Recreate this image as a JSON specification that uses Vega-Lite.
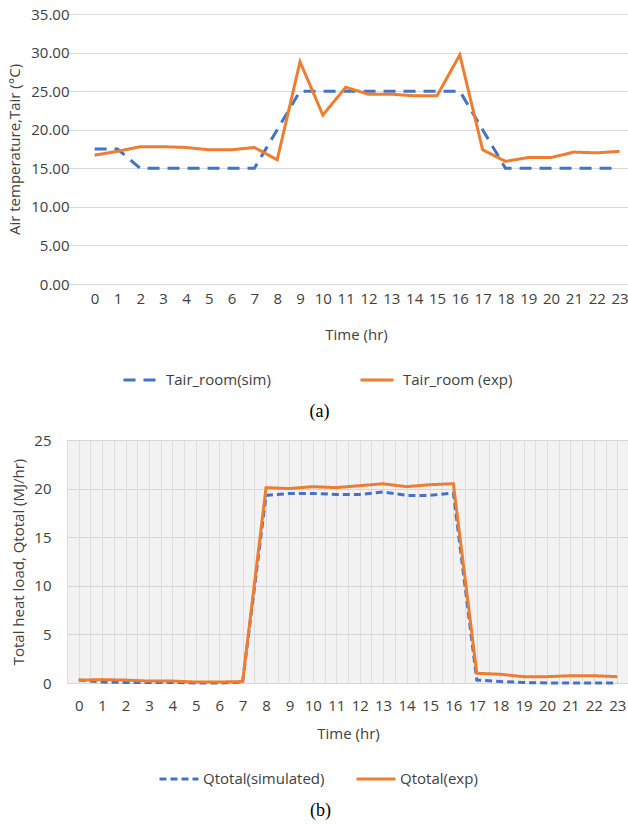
{
  "$schema": "https://vega.github.io/schema/vega-lite/v6.json",
  "padding": {"top": 7, "left": 7, "right": 0, "bottom": 0},
  "background": "white",
  "spacing": 11,
  "resolve": {"scale": {"color": "independent", "strokeDash": "independent"}, "legend": {"color": "independent", "strokeDash": "independent"}},
  "config": {
    "font": "Open Sans",
    "view": {"stroke": null},
    "axis": {"labelFont": "Open Sans", "titleFont": "Open Sans", "labelFontSize": 15, "titleFontSize": 15, "titleFontWeight": "normal", "labelColor": "#404040", "titleColor": "#404040"},
    "legend": {"labelFont": "Open Sans", "labelFontSize": 15, "labelColor": "#404040"}
  },
  "vconcat": [
    {
      "width": 564,
      "height": 270,
      "title": {"text": "(a)", "orient": "bottom", "font": "Liberation Serif", "fontSize": 18, "fontWeight": "normal", "color": "#000000", "frame": "bounds", "anchor": "middle", "offset": 15},
      "data": {"values": [
        {"hour": 0, "series": "Tair_room(sim)", "value": 17.5},
        {"hour": 1, "series": "Tair_room(sim)", "value": 17.5},
        {"hour": 2, "series": "Tair_room(sim)", "value": 15},
        {"hour": 3, "series": "Tair_room(sim)", "value": 15},
        {"hour": 4, "series": "Tair_room(sim)", "value": 15},
        {"hour": 5, "series": "Tair_room(sim)", "value": 15},
        {"hour": 6, "series": "Tair_room(sim)", "value": 15},
        {"hour": 7, "series": "Tair_room(sim)", "value": 15},
        {"hour": 8, "series": "Tair_room(sim)", "value": 20},
        {"hour": 9, "series": "Tair_room(sim)", "value": 25},
        {"hour": 10, "series": "Tair_room(sim)", "value": 25},
        {"hour": 11, "series": "Tair_room(sim)", "value": 25},
        {"hour": 12, "series": "Tair_room(sim)", "value": 25},
        {"hour": 13, "series": "Tair_room(sim)", "value": 25},
        {"hour": 14, "series": "Tair_room(sim)", "value": 25},
        {"hour": 15, "series": "Tair_room(sim)", "value": 25},
        {"hour": 16, "series": "Tair_room(sim)", "value": 25},
        {"hour": 17, "series": "Tair_room(sim)", "value": 20},
        {"hour": 18, "series": "Tair_room(sim)", "value": 15},
        {"hour": 19, "series": "Tair_room(sim)", "value": 15},
        {"hour": 20, "series": "Tair_room(sim)", "value": 15},
        {"hour": 21, "series": "Tair_room(sim)", "value": 15},
        {"hour": 22, "series": "Tair_room(sim)", "value": 15},
        {"hour": 23, "series": "Tair_room(sim)", "value": 15},
        {"hour": 0, "series": "Tair_room (exp)", "value": 16.7},
        {"hour": 1, "series": "Tair_room (exp)", "value": 17.2},
        {"hour": 2, "series": "Tair_room (exp)", "value": 17.8},
        {"hour": 3, "series": "Tair_room (exp)", "value": 17.8},
        {"hour": 4, "series": "Tair_room (exp)", "value": 17.7},
        {"hour": 5, "series": "Tair_room (exp)", "value": 17.4},
        {"hour": 6, "series": "Tair_room (exp)", "value": 17.4},
        {"hour": 7, "series": "Tair_room (exp)", "value": 17.7},
        {"hour": 8, "series": "Tair_room (exp)", "value": 16.1},
        {"hour": 9, "series": "Tair_room (exp)", "value": 28.8},
        {"hour": 10, "series": "Tair_room (exp)", "value": 21.9},
        {"hour": 11, "series": "Tair_room (exp)", "value": 25.5},
        {"hour": 12, "series": "Tair_room (exp)", "value": 24.6},
        {"hour": 13, "series": "Tair_room (exp)", "value": 24.6},
        {"hour": 14, "series": "Tair_room (exp)", "value": 24.4},
        {"hour": 15, "series": "Tair_room (exp)", "value": 24.4},
        {"hour": 16, "series": "Tair_room (exp)", "value": 29.7},
        {"hour": 17, "series": "Tair_room (exp)", "value": 17.4},
        {"hour": 18, "series": "Tair_room (exp)", "value": 15.9},
        {"hour": 19, "series": "Tair_room (exp)", "value": 16.4},
        {"hour": 20, "series": "Tair_room (exp)", "value": 16.4},
        {"hour": 21, "series": "Tair_room (exp)", "value": 17.1},
        {"hour": 22, "series": "Tair_room (exp)", "value": 17.0},
        {"hour": 23, "series": "Tair_room (exp)", "value": 17.2}
      ]},
      "mark": {"type": "line", "strokeWidth": 3},
      "encoding": {
        "x": {"field": "hour", "type": "quantitative",
          "scale": {"domain": [-1.21, 23.5], "nice": false, "zero": false},
          "axis": {"values": [0,1,2,3,4,5,6,7,8,9,10,11,12,13,14,15,16,17,18,19,20,21,22,23], "title": "Time (hr)", "titleX": 289, "grid": false, "ticks": false, "domain": false, "labelPadding": 7, "titlePadding": 21, "labelFlush": false, "labelOverlap": false}},
        "y": {"field": "value", "type": "quantitative",
          "scale": {"domain": [0, 35], "nice": false},
          "axis": {"values": [0,5,10,15,20,25,30,35], "format": ".2f", "title": "Air temperature,Tair (°C)", "domain": false, "ticks": false, "gridColor": "#d9d9d9", "labelPadding": 14, "titlePadding": 8, "offset": -16}},
        "color": {"field": "series", "type": "nominal",
          "scale": {"domain": ["Tair_room(sim)", "Tair_room (exp)"], "range": ["#4472C4", "#ED7D31"]},
          "legend": {"orient": "none", "legendX": 55, "legendY": 348, "direction": "horizontal", "title": null, "symbolType": "stroke", "symbolSize": 1089, "symbolStrokeWidth": 3, "columnPadding": 83, "labelOffset": 8, "padding": 0}},
        "strokeDash": {"field": "series", "type": "nominal",
          "scale": {"domain": ["Tair_room(sim)", "Tair_room (exp)"], "range": [[12, 8], [1, 0]]},
          "legend": {"orient": "none", "legendX": 55, "legendY": 348, "direction": "horizontal", "title": null, "symbolType": "stroke", "symbolSize": 1089, "symbolStrokeWidth": 3, "columnPadding": 83, "labelOffset": 8, "padding": 0}}
      }
    },
    {
      "width": 562,
      "height": 243,
      "view": {"fill": "#f2f2f2", "stroke": "#d9d9d9"},
      "title": {"text": "(b)", "orient": "bottom", "font": "Liberation Serif", "fontSize": 18, "fontWeight": "normal", "color": "#000000", "frame": "bounds", "anchor": "middle", "offset": 15},
      "data": {"values": [
        {"hour": 0, "series": "Qtotal(simulated)", "value": 0.3},
        {"hour": 1, "series": "Qtotal(simulated)", "value": 0.1},
        {"hour": 2, "series": "Qtotal(simulated)", "value": 0.05},
        {"hour": 3, "series": "Qtotal(simulated)", "value": 0.05},
        {"hour": 4, "series": "Qtotal(simulated)", "value": 0.05},
        {"hour": 5, "series": "Qtotal(simulated)", "value": 0.0},
        {"hour": 6, "series": "Qtotal(simulated)", "value": 0.0},
        {"hour": 7, "series": "Qtotal(simulated)", "value": 0.1},
        {"hour": 8, "series": "Qtotal(simulated)", "value": 19.3},
        {"hour": 9, "series": "Qtotal(simulated)", "value": 19.5},
        {"hour": 10, "series": "Qtotal(simulated)", "value": 19.5},
        {"hour": 11, "series": "Qtotal(simulated)", "value": 19.4},
        {"hour": 12, "series": "Qtotal(simulated)", "value": 19.4},
        {"hour": 13, "series": "Qtotal(simulated)", "value": 19.65},
        {"hour": 14, "series": "Qtotal(simulated)", "value": 19.3},
        {"hour": 15, "series": "Qtotal(simulated)", "value": 19.3},
        {"hour": 16, "series": "Qtotal(simulated)", "value": 19.55},
        {"hour": 17, "series": "Qtotal(simulated)", "value": 0.3},
        {"hour": 18, "series": "Qtotal(simulated)", "value": 0.15},
        {"hour": 19, "series": "Qtotal(simulated)", "value": 0.05},
        {"hour": 20, "series": "Qtotal(simulated)", "value": 0.0},
        {"hour": 21, "series": "Qtotal(simulated)", "value": 0.0},
        {"hour": 22, "series": "Qtotal(simulated)", "value": 0.0},
        {"hour": 23, "series": "Qtotal(simulated)", "value": 0.0},
        {"hour": 0, "series": "Qtotal(exp)", "value": 0.3},
        {"hour": 1, "series": "Qtotal(exp)", "value": 0.35},
        {"hour": 2, "series": "Qtotal(exp)", "value": 0.3},
        {"hour": 3, "series": "Qtotal(exp)", "value": 0.2},
        {"hour": 4, "series": "Qtotal(exp)", "value": 0.2},
        {"hour": 5, "series": "Qtotal(exp)", "value": 0.1},
        {"hour": 6, "series": "Qtotal(exp)", "value": 0.1},
        {"hour": 7, "series": "Qtotal(exp)", "value": 0.15},
        {"hour": 8, "series": "Qtotal(exp)", "value": 20.1},
        {"hour": 9, "series": "Qtotal(exp)", "value": 20.0},
        {"hour": 10, "series": "Qtotal(exp)", "value": 20.2},
        {"hour": 11, "series": "Qtotal(exp)", "value": 20.1},
        {"hour": 12, "series": "Qtotal(exp)", "value": 20.3},
        {"hour": 13, "series": "Qtotal(exp)", "value": 20.5},
        {"hour": 14, "series": "Qtotal(exp)", "value": 20.2},
        {"hour": 15, "series": "Qtotal(exp)", "value": 20.4},
        {"hour": 16, "series": "Qtotal(exp)", "value": 20.5},
        {"hour": 17, "series": "Qtotal(exp)", "value": 1.0},
        {"hour": 18, "series": "Qtotal(exp)", "value": 0.9},
        {"hour": 19, "series": "Qtotal(exp)", "value": 0.65},
        {"hour": 20, "series": "Qtotal(exp)", "value": 0.65},
        {"hour": 21, "series": "Qtotal(exp)", "value": 0.75},
        {"hour": 22, "series": "Qtotal(exp)", "value": 0.75},
        {"hour": 23, "series": "Qtotal(exp)", "value": 0.65}
      ]},
      "mark": {"type": "line", "strokeWidth": 3},
      "encoding": {
        "x": {"field": "hour", "type": "quantitative",
          "scale": {"domain": [-0.5, 23.5], "nice": false, "zero": false},
          "axis": {"values": [-0.5,0,0.5,1,1.5,2,2.5,3,3.5,4,4.5,5,5.5,6,6.5,7,7.5,8,8.5,9,9.5,10,10.5,11,11.5,12,12.5,13,13.5,14,14.5,15,15.5,16,16.5,17,17.5,18,18.5,19,19.5,20,20.5,21,21.5,22,22.5,23,23.5],
            "labelExpr": "datum.value % 1 === 0 ? format(datum.value, 'd') : ''",
            "title": "Time (hr)", "grid": true, "gridColor": "#dcdcdc", "ticks": false, "domain": false, "labelPadding": 15, "titlePadding": 13, "labelFlush": false, "labelOverlap": false}},
        "y": {"field": "value", "type": "quantitative",
          "scale": {"domain": [0, 25], "nice": false},
          "axis": {"values": [0,5,10,15,20,25], "format": "d", "title": "Total heat load, Qtotal (MJ/hr)", "domain": false, "ticks": false, "gridColor": "#d6d6d6", "labelPadding": 16, "titlePadding": 7}},
        "color": {"field": "series", "type": "nominal",
          "scale": {"domain": ["Qtotal(simulated)", "Qtotal(exp)"], "range": ["#4472C4", "#ED7D31"]},
          "legend": {"orient": "none", "legendX": 91, "legendY": 318, "direction": "horizontal", "title": null, "symbolType": "stroke", "symbolSize": 1521, "symbolStrokeWidth": 3, "columnPadding": 25, "labelOffset": 3, "padding": 0}},
        "strokeDash": {"field": "series", "type": "nominal",
          "scale": {"domain": ["Qtotal(simulated)", "Qtotal(exp)"], "range": [[7, 4], [1, 0]]},
          "legend": {"orient": "none", "legendX": 91, "legendY": 318, "direction": "horizontal", "title": null, "symbolType": "stroke", "symbolSize": 1521, "symbolStrokeWidth": 3, "columnPadding": 25, "labelOffset": 3, "padding": 0}}
      }
    }
  ]
}
